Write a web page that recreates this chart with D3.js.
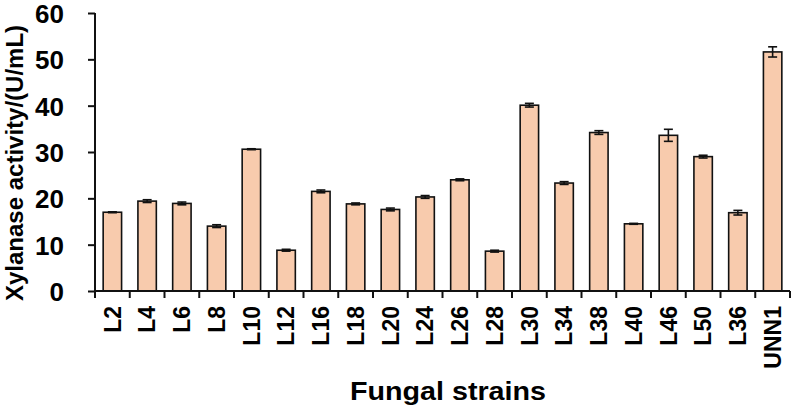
<!DOCTYPE html>
<html>
<head>
<meta charset="utf-8">
<script src="https://cdn.jsdelivr.net/npm/d3@7"></script>
<style>
  html, body { margin: 0; padding: 0; background: #fff; }
  text { font-family: "Liberation Sans", Arial, sans-serif; font-weight: bold; fill: #000; }
</style>
</head>
<body>
<div id="chart"></div>
<script>
// strains on the x axis
const strains = ["L2","L4","L6","L8","L10","L12","L16","L18","L20","L24","L26","L28","L30","L34","L38","L40","L46","L50","L36","UNN1"];
// xylanase activity (U/mL)
const activity = [17.0,19.4,18.9,14.0,30.6,8.8,21.5,18.8,17.6,20.3,24.0,8.6,40.1,23.3,34.2,14.5,33.6,29.0,16.9,51.6];
// error bar half-lengths
const errors = [0.1,0.3,0.3,0.3,0.1,0.2,0.3,0.2,0.3,0.3,0.2,0.2,0.4,0.3,0.4,0.1,1.3,0.3,0.5,1.1];
const yTicks = [0,10,20,30,40,50,60];

const W = 794, H = 411;
const plotL = 95, plotR = 790, plotT = 13, plotB = 291;

const svg = d3.select("#chart").append("svg")
    .attr("width", W)
    .attr("height", H);

const data = strains.map((s, i) => ({name: s, value: activity[i], err: errors[i]}));

const x = d3.scaleBand()
    .domain(strains)
    .range([plotL, plotR])
    .paddingInner(0.47)
    .paddingOuter(0.235);

const y = d3.scaleLinear().domain([0, 60]).range([plotB, plotT]);

// bars
svg.append("g").selectAll("rect")
    .data(data)
    .join("rect")
    .attr("x", d => x(d.name))
    .attr("y", d => y(d.value))
    .attr("width", x.bandwidth())
    .attr("height", d => y(0) - y(d.value))
    .attr("fill", "#F8CBAD")
    .attr("stroke", "#111")
    .attr("stroke-width", 1.6);

// error bars
const eb = svg.append("g").attr("stroke", "#111").attr("stroke-width", 1.6);
data.forEach(d => {
    const cx = x(d.name) + x.bandwidth() / 2;
    const y1 = y(d.value + d.err), y2 = y(d.value - d.err);
    eb.append("line").attr("x1", cx).attr("x2", cx).attr("y1", y1).attr("y2", y2);
    eb.append("line").attr("x1", cx - 4.5).attr("x2", cx + 4.5).attr("y1", y1).attr("y2", y1);
    eb.append("line").attr("x1", cx - 4.5).attr("x2", cx + 4.5).attr("y1", y2).attr("y2", y2);
});

// y axis
const yAxis = d3.axisLeft(y).tickValues(yTicks).tickSize(7).tickPadding(24);
const gy = svg.append("g").attr("transform", `translate(${plotL},0)`).call(yAxis);
gy.select(".domain").attr("d", `M0,${plotT}V${plotB}`);
gy.selectAll("line, path").attr("stroke", "#111").attr("stroke-width", 2);
gy.selectAll("text").style("font-size", "26px").attr("dy", "0.36em");

// x axis: line plus boundary ticks like excel
const gx = svg.append("g").attr("stroke", "#111").attr("stroke-width", 2);
gx.append("line").attr("x1", plotL).attr("x2", plotR).attr("y1", plotB).attr("y2", plotB);
d3.range(strains.length + 1).forEach(i => {
    const tx = plotL + i * x.step();
    gx.append("line").attr("x1", tx).attr("x2", tx).attr("y1", plotB).attr("y2", plotB + 7);
});

svg.append("g").selectAll("text")
    .data(strains)
    .join("text")
    .attr("transform", d => `translate(${x(d) + x.bandwidth() / 2 + 8.3},306) rotate(-90)`)
    .attr("text-anchor", "end")
    .style("font-size", "23px")
    .text(d => d);

// axis titles
svg.append("text")
    .attr("transform", "translate(23,163) rotate(-90)")
    .attr("text-anchor", "middle")
    .style("font-size", "24px")
    .text("Xylanase activity/(U/mL)");

svg.append("text")
    .attr("x", 448)
    .attr("y", 400)
    .attr("text-anchor", "middle")
    .style("font-size", "25px")
    .attr("textLength", 196)
    .attr("lengthAdjust", "spacingAndGlyphs")
    .text("Fungal strains");
</script>
</body>
</html>
